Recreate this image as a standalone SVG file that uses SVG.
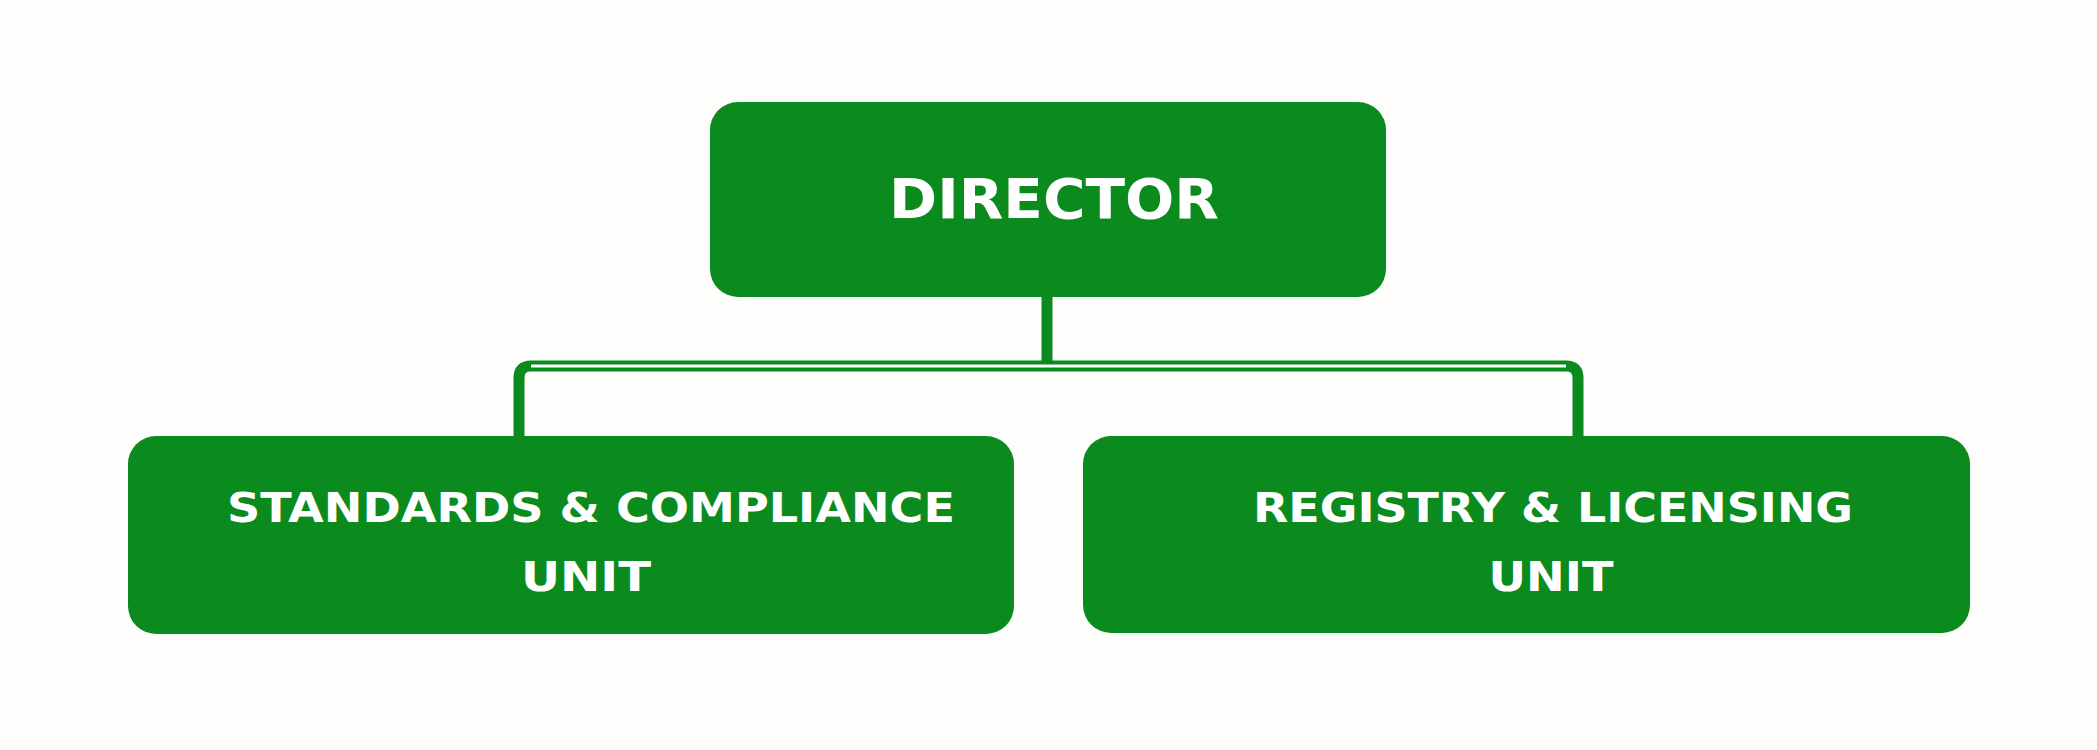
<svg xmlns="http://www.w3.org/2000/svg" width="2097" height="750" viewBox="0 0 2097 750">
<style>
.box{fill:#0b8a1e}
.t{fill:#fff;font-family:"DejaVu Sans",sans-serif;font-weight:bold;text-anchor:middle}
.c{fill:none;stroke:#0b8a1e;stroke-width:11}
</style>
<rect width="2097" height="750" fill="#fdfdfb"/>
<g id="connectors">
<path class="c" d="M1047 297V366M519 436V378Q519 366 531 366H1566Q1578 366 1578 378V436"/>
<path d="M531 366H1566" stroke="#fff" stroke-width="3" fill="none"/>
</g>
<g id="director">
<rect class="box" x="710" y="102" width="676" height="195" rx="28"/>
<text class="t" x="1054" y="218" font-size="56" textLength="330" lengthAdjust="spacingAndGlyphs">DIRECTOR</text>
</g>
<g id="standards">
<rect class="box" x="128" y="436" width="886" height="198" rx="28"/>
<text class="t" x="591" y="522" font-size="41" textLength="728" lengthAdjust="spacingAndGlyphs">STANDARDS &amp; COMPLIANCE</text>
<text class="t" x="586" y="591" font-size="41" textLength="130" lengthAdjust="spacingAndGlyphs">UNIT</text>
</g>
<g id="registry">
<rect class="box" x="1083" y="436" width="887" height="197" rx="28"/>
<text class="t" x="1553" y="522" font-size="41" textLength="600" lengthAdjust="spacingAndGlyphs">REGISTRY &amp; LICENSING</text>
<text class="t" x="1551" y="591" font-size="41" textLength="125" lengthAdjust="spacingAndGlyphs">UNIT</text>
</g>
</svg>
